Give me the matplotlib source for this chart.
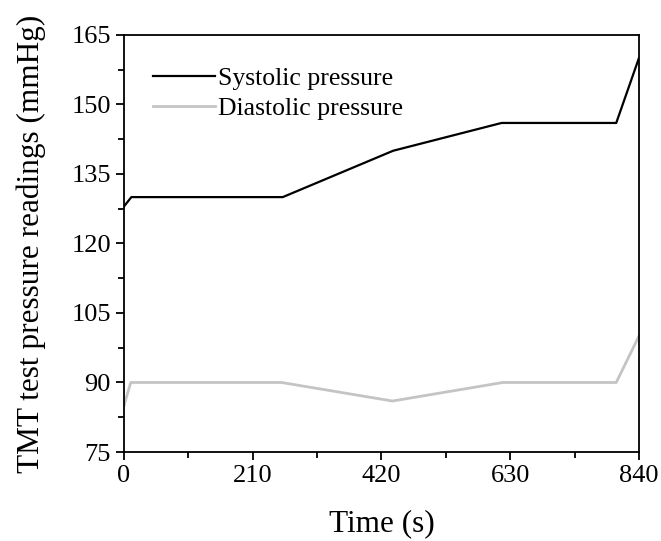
import matplotlib
matplotlib.use("Agg")
import matplotlib.pyplot as plt
from matplotlib.ticker import MultipleLocator

# Time points (s) and pressure readings (mmHg)
sys_time = [0, 12, 259, 439, 616, 803, 840]
sys_vals = [128, 130, 130, 140, 146, 146, 160]
dia_time = [0, 11, 257, 438, 618, 803, 840]
dia_vals = [85, 90, 90, 86, 90, 90, 100]

x_ticks = [0, 210, 420, 630, 840]
y_ticks = [75, 90, 105, 120, 135, 150, 165]

plt.rcParams['font.family'] = ['Liberation Serif', 'DejaVu Serif']

fig = plt.figure(figsize=(6.61, 5.41), dpi=100)
ax = fig.add_axes([0.1876, 0.1645, 0.779, 0.771])

ax.plot(sys_time, sys_vals, color='black', lw=1.6, label='Systolic pressure')
ax.plot(dia_time, dia_vals, color='#c4c4c4', lw=2.0, label='Diastolic pressure')

ax.set_xlim(0, 840)
ax.set_ylim(75, 165)
ax.set_xticks(x_ticks)
ax.set_yticks(y_ticks)
ax.xaxis.set_minor_locator(MultipleLocator(105))
ax.yaxis.set_minor_locator(MultipleLocator(7.5))
ax.tick_params(which='major', direction='out', length=6, width=1.3, labelsize=19)
ax.tick_params(which='minor', direction='out', length=4, width=1.3)
ax.tick_params(top=False, right=False, which='both')
for s in ax.spines.values():
    s.set_linewidth(1.3)

ax.set_xlabel('Time (s)', fontsize=22.5, labelpad=16)
ax.set_ylabel('TMT test pressure readings (mmHg)', fontsize=22.5, labelpad=18)

ax.legend(loc='upper left', bbox_to_anchor=(0.012, 0.978), frameon=False,
          fontsize=18.5, handlelength=2.4, handletextpad=0.12, labelspacing=0.25)

fig.savefig('out.png', dpi=100)
